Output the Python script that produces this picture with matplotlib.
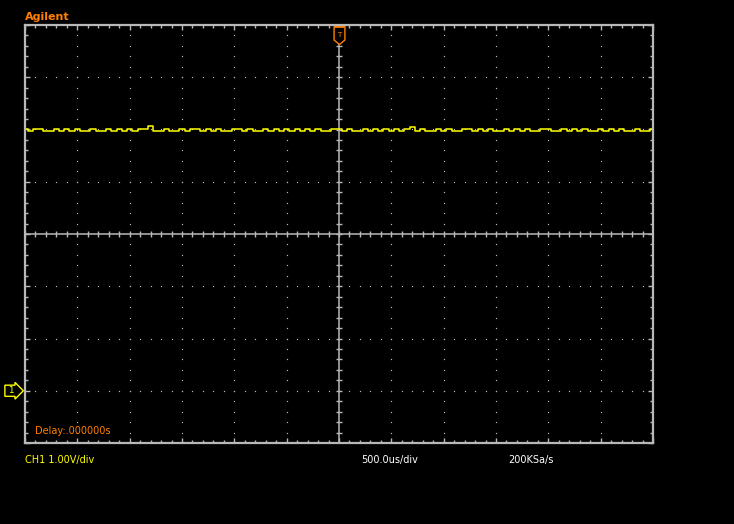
import matplotlib
import matplotlib.pyplot as plt
import matplotlib.transforms as mtransforms
import numpy as np

matplotlib.use("Agg")

# scope settings
volts_per_div = 1.0
time_per_div = 0.5  # ms
n_xdiv = 12
n_ydiv = 8
ground_div = -3  # channel 1 ground marker, divisions from centre

# channel 1 trace, volts (~0.05 ms per sample)
trace_v = [
    5.00, 4.98, 5.00, 5.00, 4.97, 4.98, 5.00, 4.97, 5.00, 4.98, 5.00,
    4.97, 4.98, 5.00, 4.97, 4.97, 5.00, 4.98, 5.00, 4.97, 5.00, 4.98,
    5.00, 5.00, 5.06, 4.98, 4.97, 5.00, 4.97, 4.98, 5.00, 4.97, 5.00,
    5.00, 4.98, 5.00, 4.97, 5.00, 4.98, 4.97, 5.00, 5.00, 4.98, 5.00,
    4.97, 4.98, 5.00, 4.97, 5.00, 4.98, 5.00, 4.97, 5.00, 4.98, 5.00,
    4.97, 5.00, 4.98, 4.97, 5.00, 5.00, 4.98, 5.00, 4.97, 4.98, 5.00,
    4.97, 5.00, 4.98, 5.00, 4.97, 5.00, 4.98, 5.00, 5.05, 4.98, 5.00,
    4.97, 4.98, 5.00, 4.97, 5.00, 4.98, 4.97, 5.00, 5.00, 4.98, 5.00,
    4.97, 5.00, 4.98, 4.97, 5.00, 4.98, 5.00, 4.97, 5.00, 4.98, 4.97,
    5.00, 5.00, 4.97, 4.98, 5.00, 4.97, 5.00, 4.98, 5.00, 4.97, 4.98,
    5.00, 4.97, 5.00, 4.98, 5.00, 4.97, 4.98, 5.00, 4.97, 4.98, 5.00,
]

brand = "Agilent"
delay_text = "Delay:.000000s"
ch_text = "CH1 1.00V/div"
tb_text = "500.0us/div"
rate_text = "200KSa/s"

W, H = 734, 524
GRID = "#b8b8b8"
ORANGE = "#ff8000"
YELLOW = "#ffff00"


def px(x, y):
    return x / W, 1 - y / H


fig = plt.figure(figsize=(W / 100, H / 100), dpi=100, facecolor="black")
ax = fig.add_axes([25 / W, (H - 443) / H, 628 / W, 418 / H], facecolor="black")

y_center = ground_div * -volts_per_div
x_min, x_max = -n_xdiv / 2 * time_per_div, n_xdiv / 2 * time_per_div
y_min = y_center - n_ydiv / 2 * volts_per_div
y_max = y_center + n_ydiv / 2 * volts_per_div
ax.set_xlim(x_min, x_max)
ax.set_ylim(y_min, y_max)

x_major = np.arange(x_min, x_max + 1e-9, time_per_div)
y_major = np.arange(y_min, y_max + 1e-9, volts_per_div)
x_minor = np.arange(x_min, x_max + 1e-9, time_per_div / 5)
y_minor = np.arange(y_min, y_max + 1e-9, volts_per_div / 5)

# border with inward ticks
for s in ax.spines.values():
    s.set_color(GRID)
    s.set_linewidth(1.6)
ax.set_xticks(x_major)
ax.set_yticks(y_major)
ax.set_xticks(x_minor, minor=True)
ax.set_yticks(y_minor, minor=True)
ax.tick_params(which="both", direction="in", top=True, right=True,
               labelbottom=False, labelleft=False, color=GRID, width=1)
ax.tick_params(which="major", length=3.5)
ax.tick_params(which="minor", length=2.2)

# dotted graticule
for xv in x_major[1:-1]:
    if abs(xv) < 1e-9:
        continue
    ax.plot([xv] * len(y_minor[1:-1]), y_minor[1:-1], ls="none", marker="s",
            ms=0.85, mew=0, color=GRID)
for yv in y_major[1:-1]:
    if abs(yv - y_center) < 1e-9:
        continue
    ax.plot(x_minor[1:-1], [yv] * len(x_minor[1:-1]), ls="none", marker="s",
            ms=0.85, mew=0, color=GRID)

# centre axes with tick marks
ax.axvline(0, color=GRID, lw=1.1)
ax.axhline(y_center, color=GRID, lw=1.1)
ax.plot([0] * len(y_minor), y_minor, ls="none", marker="_", ms=5, mew=1, color=GRID)
ax.plot(x_minor, [y_center] * len(x_minor), ls="none", marker="|", ms=5, mew=1,
        color=GRID)

# trace
t = np.linspace(x_min, x_max, len(trace_v))
ax.step(t, trace_v, where="mid", color=YELLOW, lw=1.1)

# trigger position marker
trans_top = mtransforms.blended_transform_factory(ax.transData, ax.transAxes)
pent = [(-0.6, 1), (0.6, 1), (0.6, -0.5), (0, -1), (-0.6, -0.5), (-0.6, 1)]
ax.plot([0], [0.975], transform=trans_top, marker=pent, ms=13, mfc="black",
        mec=ORANGE, mew=1, clip_on=False)
ax.plot([0], [0.998], transform=trans_top, marker="_", ms=7, mew=2, color=ORANGE,
        clip_on=False)
ax.text(0, 0.977, "T", transform=trans_top, color=ORANGE, fontsize=5,
        ha="center", va="center")

# channel 1 ground marker
trans_left = mtransforms.blended_transform_factory(ax.transAxes, ax.transData)
ax.text(-0.012, 0, " 1 ", transform=trans_left, color=YELLOW, fontsize=6.5,
        ha="right", va="center",
        bbox=dict(boxstyle="rarrow,pad=0.12", fc="black", ec=YELLOW, lw=1))

# labels
fig.text(*px(25, 17), brand, color=ORANGE, fontsize=8, fontweight="bold",
         va="center", ha="left")
fig.text(*px(35, 431), delay_text, color=ORANGE, fontsize=7, va="center", ha="left")
fig.text(*px(25, 460), ch_text, color=YELLOW, fontsize=7, va="center", ha="left")
fig.text(*px(361, 460), tb_text, color="white", fontsize=7, va="center", ha="left")
fig.text(*px(508, 460), rate_text, color="white", fontsize=7, va="center", ha="left")

fig.savefig("out.png", dpi=100, facecolor="black")
